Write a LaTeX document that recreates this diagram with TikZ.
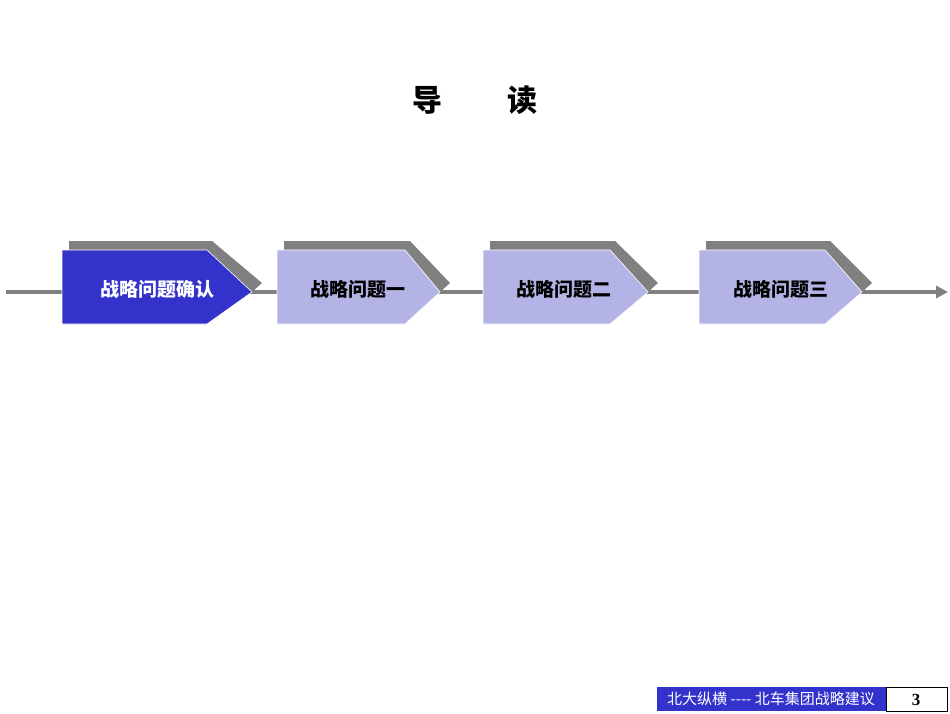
\documentclass[tikz,border=0pt]{standalone}
\usepackage{fontspec}
\setmainfont{Liberation Serif}
\newfontfamily\cjk{Noto Sans CJK SC}
\usetikzlibrary{arrows.meta,positioning}
\definecolor{stepdark}{HTML}{3333CC}
\definecolor{steplight}{HTML}{B3B3E6}
\definecolor{shadowgray}{HTML}{808080}
\tikzset{
  stepbox/.style={fill=steplight, draw=white, line width=0.6pt},
  steptext/.style={font=\cjk\bfseries\fontsize{19}{19}\selectfont, text=black},
}
% arrow block: #1 left x, #2 body right x, #3 tip x, #4 fill
\newcommand{\stepshape}[4]{%
  \fill[shadowgray] (#1+7,241) -- (#2+5,241) -- (#3+10,283) -- (#3,292) -- (#2,250) -- (#1+7,250) -- cycle;
  \filldraw[fill=#4, draw=white, line width=0.6pt] (#1,250) -- (#2,250) -- (#3,292) -- (#2,324) -- (#1,324) -- cycle;
}
\begin{document}
\begin{tikzpicture}[x=1pt,y=-1pt]
\useasboundingbox (0,0) rectangle (950,713);
\fill[white] (0,0) rectangle (950,713);

\node[font=\cjk\bfseries\fontsize{30}{30}\selectfont] (title) at (475,100) {导\hspace{2.2em}读};

\coordinate (lstart) at (6,292);
\coordinate (lend) at (948,292);
\draw[shadowgray, line width=4pt, -{Triangle[length=12pt,width=12pt]}] (lstart) -- (lend);

\stepshape{62}{207}{252}{stepdark}
\stepshape{277}{405}{440}{steplight}
\stepshape{483}{610}{648}{steplight}
\stepshape{699}{825}{862}{steplight}

\node[steptext, text=white] (s0) at (157,289) {战略问题确认};
\node[steptext] (s1) at (358,289) {战略问题一};
\node[steptext] (s2) at (564,289) {战略问题二};
\node[steptext] (s3) at (781,289) {战略问题三};

\fill[stepdark] (657,687) rectangle (886,711);
\draw[black, line width=0.6pt, fill=white] (886,687) rectangle (947,711);
\node[text=white, font=\cjk\fontsize{15}{15}\selectfont] (foot) at (771,699) {北大纵横 ---- 北车集团战略建议};
\node[font=\bfseries\fontsize{17}{17}\selectfont] (page) at (916,700) {3};
\end{tikzpicture}
\end{document}
